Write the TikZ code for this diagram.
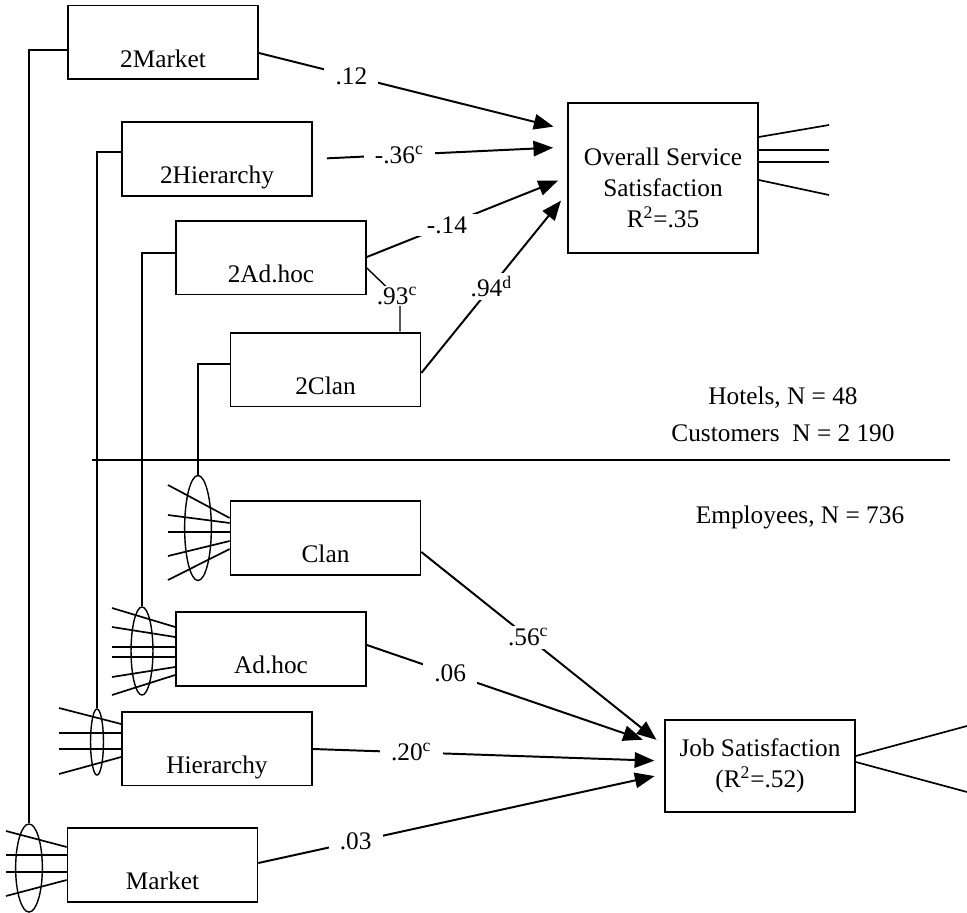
\documentclass[tikz,border=0pt]{standalone}
\usepackage{fontspec}
\setmainfont{Liberation Serif}
\usetikzlibrary{arrows.meta,shapes.geometric}

\begin{document}
\begin{tikzpicture}[
  x=0.025cm, y=-0.025cm,
  font=\fontsize{18}{22}\selectfont,
  construct/.style={draw, line width=1.3pt, minimum width=135pt, inner sep=0pt,
    text height=44pt, text depth=8.5pt},
  outcome/.style={draw, line width=1.3pt, minimum width=135pt, align=center,
    inner sep=0pt},
  loading/.style={draw, ellipse, line width=1pt, inner sep=0pt},
  effect/.style={-{Triangle[length=14pt,width=11pt]}, line width=1.4pt,
    shorten >=7pt},
  indicator/.style={line width=1.2pt},
  cov/.style={line width=0.8pt},
  coef/.style={fill=white, inner xsep=8pt, inner ysep=2pt}
]
  \useasboundingbox (0,0) rectangle (967,913);

  % hotel level (customers)
  \node[construct] (mkt2) at (163,42.5) {2Market};
  \node[construct] (hier2) at (217,159) {2Hierarchy};
  \node[construct] (adhoc2) at (271,257.5) {2Ad.hoc};
  \node[construct] (clan2) at (325.5,369.5) {2Clan};
  \node[outcome, minimum height=106.7pt] (oss) at (663,178)
    {\rule{0pt}{27pt}Overall Service\\Satisfaction\\R\textsuperscript{2}=.35};

  \draw[effect, shorten >=10pt] (mkt2.east |- 0,53) --
    node[coef, pos=.30]{.12} (oss.west |- 0,130);
  \draw[effect, shorten <=10pt, shorten >=10pt] (hier2.east |- 0,159) --
    node[coef, pos=.34]{-.36\textsuperscript{c}} (oss.west |- 0,147);
  \draw[effect] (adhoc2.east |- 0,257) --
    node[coef, pos=.40]{-.14} (oss.west |- 0,177);
  \draw[effect] (clan2.east |- 0,373) --
    node[coef, pos=.48]{.94\textsuperscript{d}} (oss.west |- 0,193);

  \draw[line width=1pt] (adhoc2.east |- 0,268) -- (400,300) -- (clan2.north -| 400,0);
  \node[coef, inner sep=1pt] (r93) at (397,296) {.93\textsuperscript{c}};

  \foreach \a/\b in {137/125,150/150,162/162,180/195}
    \draw[indicator] (oss.east |- 0,\a) -- (829,\b);

  \node (hotels) at (783,398) {Hotels, N = 48};
  \node (customers) at (783,433) {Customers\ \ N = 2 190};

  \draw[line width=1pt] (92,460) coordinate (sepL) -- (950,460) coordinate (sepR);

  % employee level
  \node (employees) at (800,517) {Employees, N = 736};
  \node[construct] (clan) at (325.5,538) {Clan};
  \node[construct] (adhoc) at (271,649) {Ad.hoc};
  \node[construct] (hier) at (217,748.5) {Hierarchy};
  \node[construct] (mkt) at (162.5,865) {Market};
  \node[outcome, minimum height=65.4pt] (job) at (760,766)
    {Job Satisfaction\\(R\textsuperscript{2}=.52)};

  \node[loading, minimum width=19pt, minimum height=74.7pt] (clanell) at (198,528) {};
  \node[loading, minimum width=15.6pt, minimum height=62.6pt] (adhocell) at (142,651) {};
  \node[loading, minimum width=9.2pt, minimum height=47pt] (hierell) at (97,742) {};
  \node[loading, minimum width=19pt, minimum height=62.6pt] (mktell) at (29,868) {};

  \foreach \a/\b in {485/518,515/523,532/532,556/541,580/549}
    \draw[indicator] (168,\a) -- (clan.west |- 0,\b);
  \foreach \a/\b in {608/627,627/637,647/647,657/657,677/667,695/675}
    \draw[indicator] (112,\a) -- (adhoc.west |- 0,\b);
  \foreach \a/\b in {708/724,733/733,749/749,774/757}
    \draw[indicator] (59,\a) -- (hier.west |- 0,\b);
  \foreach \a/\b in {831/847,855/855,872/872,896/880}
    \draw[indicator] (6,\a) -- (mkt.west |- 0,\b);

  \draw[cov] (mkt2.west |- 0,50) -| (mktell.north);
  \draw[cov] (hier2.west |- 0,152) -| (hierell.north);
  \draw[cov] (adhoc2.west |- 0,253) -| (adhocell.north);
  \draw[cov] (clan2.west |- 0,364) -| (clanell.north);

  \draw[effect] (clan.east |- 0,552) --
    node[coef, pos=.44]{.56\textsuperscript{c}} (job.west |- 0,746);
  \draw[effect, shorten >=16pt] (adhoc.east |- 0,645) --
    node[coef, pos=.28]{.06} (job.west |- 0,747);
  \draw[effect] (hier.east |- 0,749) --
    node[coef, pos=.28]{.20\textsuperscript{c}} (job.west |- 0,761);
  \draw[effect] (mkt.east |- 0,863) --
    node[coef, pos=.24]{.03} (job.west |- 0,774);

  \foreach \a/\b in {756/726,762/792}
    \draw[indicator] (job.east |- 0,\a) -- (967,\b);
\end{tikzpicture}
\end{document}
